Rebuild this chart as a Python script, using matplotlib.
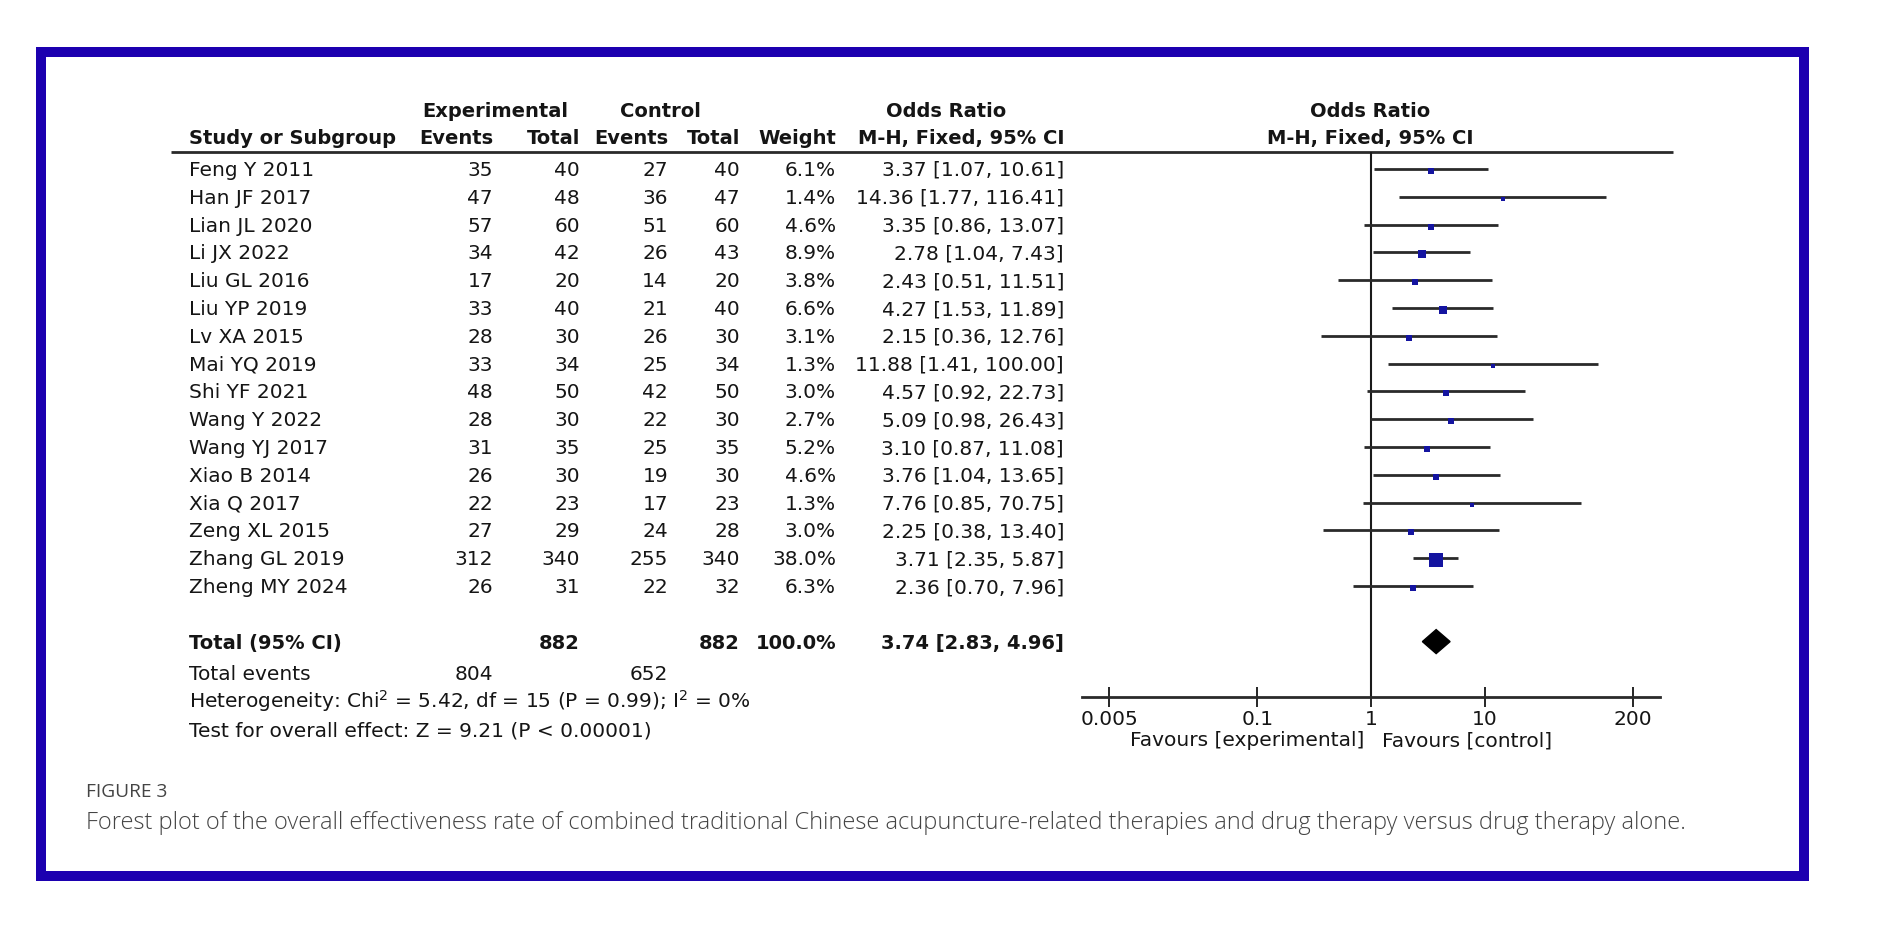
import numpy as np
import matplotlib.pyplot as plt
from matplotlib.patches import Rectangle, Polygon

plt.rcParams['font.family'] = ['DejaVu Sans']

# data
studies = ["Feng Y 2011", "Han JF 2017", "Lian JL 2020", "Li JX 2022", "Liu GL 2016",
           "Liu YP 2019", "Lv XA 2015", "Mai YQ 2019", "Shi YF 2021", "Wang Y 2022",
           "Wang YJ 2017", "Xiao B 2014", "Xia Q 2017", "Zeng XL 2015", "Zhang GL 2019",
           "Zheng MY 2024"]
exp_events = [35, 47, 57, 34, 17, 33, 28, 33, 48, 28, 31, 26, 22, 27, 312, 26]
exp_total = [40, 48, 60, 42, 20, 40, 30, 34, 50, 30, 35, 30, 23, 29, 340, 31]
ctrl_events = [27, 36, 51, 26, 14, 21, 26, 25, 42, 22, 25, 19, 17, 24, 255, 22]
ctrl_total = [40, 47, 60, 43, 20, 40, 30, 34, 50, 30, 35, 30, 23, 28, 340, 32]
weights = [6.1, 1.4, 4.6, 8.9, 3.8, 6.6, 3.1, 1.3, 3.0, 2.7, 5.2, 4.6, 1.3, 3.0, 38.0, 6.3]
odds = [3.37, 14.36, 3.35, 2.78, 2.43, 4.27, 2.15, 11.88, 4.57, 5.09, 3.10, 3.76, 7.76,
        2.25, 3.71, 2.36]
ci_low = [1.07, 1.77, 0.86, 1.04, 0.51, 1.53, 0.36, 1.41, 0.92, 0.98, 0.87, 1.04, 0.85,
          0.38, 2.35, 0.70]
ci_high = [10.61, 116.41, 13.07, 7.43, 11.51, 11.89, 12.76, 100.00, 22.73, 26.43, 11.08,
           13.65, 70.75, 13.40, 5.87, 7.96]

total_exp, total_ctrl = 882, 882
events_exp, events_ctrl = 804, 652
pooled_or, pooled_lo, pooled_hi = 3.74, 2.83, 4.96
tick_vals = [0.005, 0.1, 1, 10, 200]
tick_labels = ["0.005", "0.1", "1", "10", "200"]

W, H = 1880, 930
fig = plt.figure(figsize=(W / 100, H / 100), dpi=100)
ax = fig.add_axes([0, 0, 1, 1])
ax.set_xlim(0, W)
ax.set_ylim(H, 0)
ax.axis('off')

dark = '#151515'
fs = 14.5
fs_bold = 14

# frame
ax.add_patch(Rectangle((41, 52), 1763, 824, fill=False, edgecolor='#1C00B0', linewidth=7.2))

# row layout (pixel centres)
row0, step = 169, 27.8
def row_y(i):
    return row0 + step * i

def txt(x, y, s, ha='left', bold=False, **kw):
    size = kw.pop('size', fs_bold if bold else fs)
    ax.text(x, y + 7, s, ha=ha, va='baseline', fontsize=size,
            fontweight='bold' if bold else 'normal', color=kw.pop('color', dark), **kw)

# column positions
x_name, x_ee, x_et, x_ce, x_ct, x_w, x_or = 189, 493, 580, 668, 740, 836, 1064

# headers
txt(495, 110, "Experimental", ha='center', bold=True)
txt(660, 110, "Control", ha='center', bold=True)
txt(946, 110, "Odds Ratio", ha='center', bold=True)
txt(1370, 110, "Odds Ratio", ha='center', bold=True)
txt(x_name, 137, "Study or Subgroup", bold=True)
txt(x_ee, 137, "Events", ha='right', bold=True)
txt(x_et, 137, "Total", ha='right', bold=True)
txt(x_ce, 137, "Events", ha='right', bold=True)
txt(x_ct, 137, "Total", ha='right', bold=True)
txt(x_w, 137, "Weight", ha='right', bold=True)
txt(x_or, 137, "M-H, Fixed, 95% CI", ha='right', bold=True)
txt(1370, 137, "M-H, Fixed, 95% CI", ha='center', bold=True)
ax.plot([171, 1673], [152, 152], color='#2a2a2a', lw=2.0, solid_capstyle='butt')

for i, name in enumerate(studies):
    y = row_y(i)
    txt(x_name, y, name)
    txt(x_ee, y, str(exp_events[i]), ha='right')
    txt(x_et, y, str(exp_total[i]), ha='right')
    txt(x_ce, y, str(ctrl_events[i]), ha='right')
    txt(x_ct, y, str(ctrl_total[i]), ha='right')
    txt(x_w, y, f"{weights[i]:.1f}%", ha='right')
    txt(x_or, y, f"{odds[i]:.2f} [{ci_low[i]:.2f}, {ci_high[i]:.2f}]", ha='right')

# totals
yt = row_y(17)
txt(x_name, yt, "Total (95% CI)", bold=True)
txt(x_et, yt, str(total_exp), ha='right', bold=True)
txt(x_ct, yt, str(total_ctrl), ha='right', bold=True)
txt(x_w, yt, "100.0%", ha='right', bold=True)
txt(x_or, yt, f"{pooled_or:.2f} [{pooled_lo:.2f}, {pooled_hi:.2f}]", ha='right', bold=True)
txt(x_name, 673, "Total events")
txt(x_ee, 673, str(events_exp), ha='right')
txt(x_ce, 673, str(events_ctrl), ha='right')
txt(x_name, 701, "Heterogeneity: Chi$^2$ = 5.42, df = 15 (P = 0.99); I$^2$ = 0%")
txt(x_name, 729, "Test for overall effect: Z = 9.21 (P < 0.00001)")

# forest panel
left, right, top, bottom = 1082, 1660, 152, 697
fax = fig.add_axes([left / W, 1 - bottom / H, (right - left) / W, (bottom - top) / H])
fax.set_xscale('log')
dec = 0.24
fax.set_xlim(10 ** (np.log10(0.005) - dec), 10 ** (np.log10(200) + dec))
fax.set_ylim(bottom, top)
fax.patch.set_alpha(0)
for s in ['top', 'left', 'right']:
    fax.spines[s].set_visible(False)
fax.spines['bottom'].set_linewidth(2.0)
fax.spines['bottom'].set_color('#2a2a2a')
fax.set_yticks([])
fax.set_xticks(tick_vals)
fax.set_xticklabels(tick_labels)
fax.minorticks_off()
fax.tick_params(axis='x', direction='inout', length=14, width=1.3, pad=2,
                labelsize=fs, colors=dark)
fax.axvline(1, color='#1a1a1a', lw=1.5)

for i in range(len(studies)):
    y = row_y(i)
    fax.plot([ci_low[i], ci_high[i]], [y, y], color='#2a2a2a', lw=2.0,
             solid_capstyle='butt')
    side = 2 + 12 * np.sqrt(weights[i] / 38.0)
    fax.plot(odds[i], y + 2, marker='s', markersize=side * 0.72, color='#1414A0',
             markeredgewidth=0)

# pooled diamond
dy = 12
fax.add_patch(Polygon([[pooled_lo, yt], [pooled_or, yt - dy], [pooled_hi, yt],
                       [pooled_or, yt + dy]], closed=True, color='black'))

txt(1364, 739, "Favours [experimental]", ha='right')
txt(1382, 739, "Favours [control]", ha='left')

# caption
ax.text(86, 797, "FIGURE 3", fontsize=13.8, color='#444444', va='baseline',
        family=['Open Sans', 'DejaVu Sans'])
ax.text(86, 829, "Forest plot of the overall effectiveness rate of combined traditional Chinese "
        "acupuncture-related therapies and drug therapy versus drug therapy alone.",
        fontsize=17, color='#444444', va='baseline', fontweight='light',
        family=['Open Sans', 'DejaVu Sans'])

fig.savefig('out.png', dpi=100)
